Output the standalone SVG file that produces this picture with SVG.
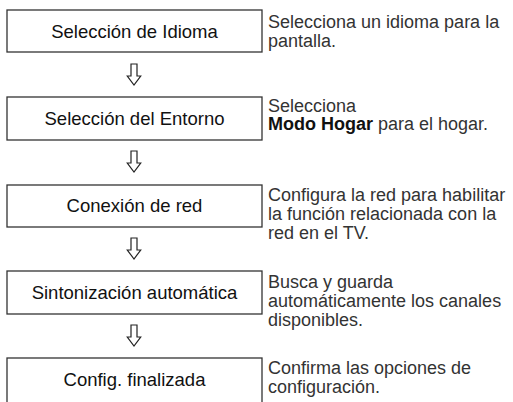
<svg xmlns="http://www.w3.org/2000/svg" width="513" height="402" viewBox="0 0 513 402">
<style>
.box{fill:#fff;stroke:#333;stroke-width:1.3}
.lbl{font-family:"Liberation Sans",Arial,sans-serif;font-size:18.5px;fill:#111;text-anchor:middle}
.desc{font-family:"Liberation Sans",Arial,sans-serif;font-size:18px;fill:#333}
.b{font-weight:bold;fill:#111}
.arr{fill:#fff;stroke:#222;stroke-width:1.2;stroke-linejoin:miter}
</style>
<defs>
<path id="ar" class="arr" d="M-3,0 L3,0 L3,12 L6.7,12 L0,21 L-6.7,12 L-3,12 Z"/>
</defs>
<rect width="513" height="402" fill="#fff"/>
<g id="connectors">
<use href="#ar" x="134" y="64"/>
<use href="#ar" x="134" y="151"/>
<use href="#ar" x="134" y="238"/>
<use href="#ar" x="134" y="325"/>
</g>
<g id="n1">
<rect class="box" x="7" y="10" width="255" height="42"/>
<text class="lbl" x="134.5" y="37.5">Selección de Idioma</text>
<text class="desc" x="268" y="28">Selecciona un idioma para la</text>
<text class="desc" x="268" y="47">pantalla.</text>
</g>
<g id="n2">
<rect class="box" x="7" y="97" width="255" height="43"/>
<text class="lbl" x="134.5" y="124.5">Selección del Entorno</text>
<text class="desc" x="268" y="111.5">Selecciona</text>
<text class="desc" x="268" y="130"><tspan class="b">Modo Hogar</tspan> para el hogar.</text>
</g>
<g id="n3">
<rect class="box" x="7" y="185" width="255" height="42"/>
<text class="lbl" x="134.5" y="212">Conexión de red</text>
<text class="desc" x="268" y="201">Configura la red para habilitar</text>
<text class="desc" x="268" y="220">la función relacionada con la</text>
<text class="desc" x="268" y="239">red en el TV.</text>
</g>
<g id="n4">
<rect class="box" x="7" y="271" width="255" height="43"/>
<text class="lbl" x="134.5" y="298.5">Sintonización automática</text>
<text class="desc" x="268" y="288">Busca y guarda</text>
<text class="desc" x="268" y="307">automáticamente los canales</text>
<text class="desc" x="268" y="326">disponibles.</text>
</g>
<g id="n5">
<rect class="box" x="7" y="358" width="255" height="50"/>
<text class="lbl" x="134.5" y="386">Config. finalizada</text>
<text class="desc" x="268" y="374">Confirma las opciones de</text>
<text class="desc" x="268" y="393">configuración.</text>
</g>
</svg>
